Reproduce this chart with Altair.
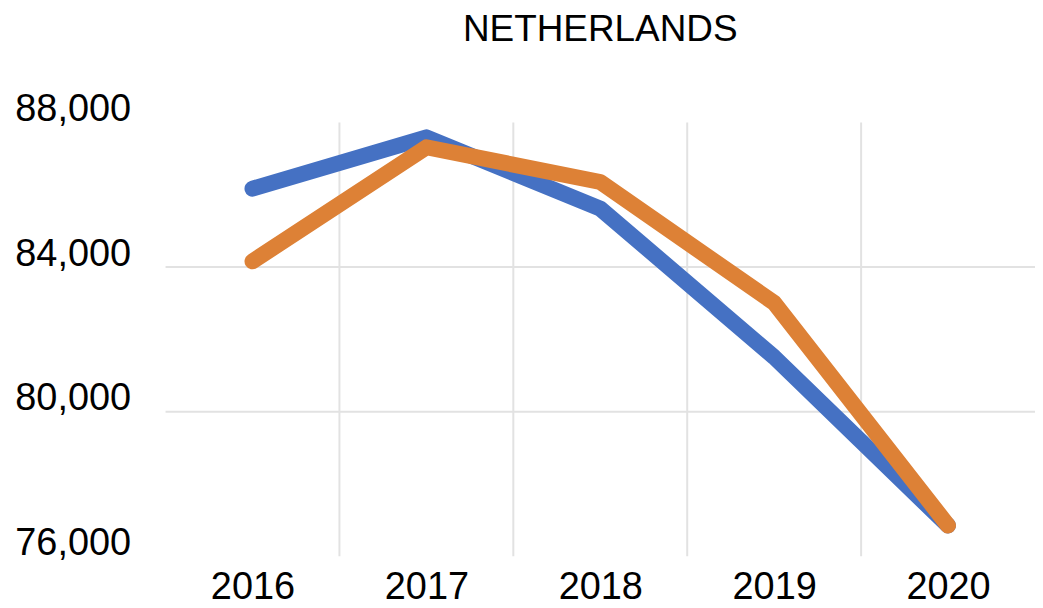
import altair as alt
import pandas as pd

years = [2016, 2017, 2018, 2019, 2020]
series_a = [86170, 87590, 85620, 81510, 76850]   # blue
series_b = [84160, 87315, 86355, 83010, 76850]   # orange
y_ticks = [76000, 80000, 84000, 88000]
y_grid = [80000, 84000]
x_bounds = [2016.5, 2017.5, 2018.5, 2019.5]

BLUE = "#4571C3"
ORANGE = "#DD8136"
GRID = "#e2e2e2"
FONT = "Liberation Sans"

df = pd.DataFrame({
    "year": years * 2,
    "value": series_a + series_b,
    "series": ["Series 1"] * len(years) + ["Series 2"] * len(years),
})
vgrid = pd.DataFrame({"x": x_bounds})
hgrid = pd.DataFrame({"y": y_grid})

x_scale = alt.Scale(domain=[2015.5, 2020.5], nice=False, zero=False)
y_scale = alt.Scale(domain=[76000, 88000], nice=False, zero=False)

x_axis = alt.Axis(values=years, format="d", grid=False, ticks=False, domain=False,
                  labelFontSize=38, labelFont=FONT, labelColor="#000", labelPadding=12,
                  title=None)
y_axis = alt.Axis(values=y_ticks, format=",d", grid=False, ticks=False, domain=False,
                  labelFontSize=38, labelFont=FONT, labelColor="#000", labelPadding=35,
                  labelOffset=-13, title=None)

vrules = alt.Chart(vgrid).mark_rule(color=GRID, strokeWidth=2).encode(
    x=alt.X("x:Q", scale=x_scale, axis=x_axis)
)
hrules = alt.Chart(hgrid).mark_rule(color=GRID, strokeWidth=2).encode(
    y=alt.Y("y:Q", scale=y_scale, axis=y_axis)
)

def series_line(name, color):
    return alt.Chart(df).transform_filter(alt.datum.series == name).mark_line(
        color=color, strokeWidth=16, strokeCap="round", strokeJoin="round"
    ).encode(
        x=alt.X("year:Q", scale=x_scale, axis=x_axis),
        y=alt.Y("value:Q", scale=y_scale, axis=y_axis),
    )

chart = alt.layer(
    vrules, hrules,
    series_line("Series 1", BLUE),
    series_line("Series 2", ORANGE),
).properties(
    width=872,
    height=435,
    padding={"left": 158, "top": 114, "right": 0, "bottom": 50},
    autosize=alt.AutoSizeParams(type="none"),
    title=alt.TitleParams(
        "NETHERLANDS", fontSize=37, font=FONT, fontWeight="normal", color="#000",
        anchor="middle", frame="group", offset=42,
    ),
).configure_view(stroke=None)

chart.save("out.html", embed_options={"renderer": "svg", "actions": False})
